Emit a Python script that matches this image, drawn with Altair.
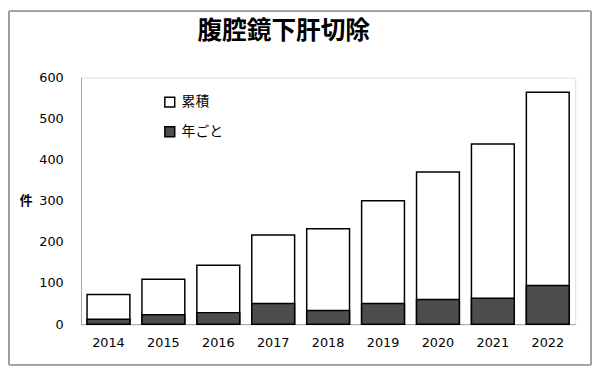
import altair as alt
import pandas as pd

years = ["2014", "2015", "2016", "2017", "2018", "2019", "2020", "2021", "2022"]
cumulative = [72, 109, 143, 217, 232, 300, 370, 438, 564]
yearly = [12, 23, 28, 50, 33, 50, 60, 63, 94]
series_names = ["累積", "年ごと"]
series_colors = ["#ffffff", "#4d4d4d"]
y_ticks = [0, 100, 200, 300, 400, 500, 600]

df = pd.DataFrame({
    "year": years + years,
    "series": [series_names[0]] * len(years) + [series_names[1]] * len(years),
    "value": cumulative + yearly,
})

JP = "Noto Sans CJK JP"
NUM = "DejaVu Sans"
AXIS_GRAY = "#a6a6a6"

color = alt.Color(
    "series:N",
    scale=alt.Scale(domain=series_names, range=series_colors),
    legend=alt.Legend(
        title=None, orient="none", legendX=83, legendY=18,
        symbolType="square", symbolSize=100, symbolStrokeColor="black",
        symbolStrokeWidth=1.5, labelFont=JP, labelFontSize=14,
        labelColor="black", rowPadding=14, labelOffset=5,
    ),
)

x = alt.X(
    "year:N", sort=years,
    scale=alt.Scale(paddingInner=0.22, paddingOuter=0.11),
    axis=alt.Axis(title=None, labelAngle=0, ticks=False, domainColor=AXIS_GRAY,
                  labelFont=NUM, labelFontSize=13, labelColor="black", labelPadding=13),
)
y = alt.Y(
    "value:Q", stack=None,
    scale=alt.Scale(domain=[0, 600], nice=False),
    axis=alt.Axis(values=y_ticks, title="件", titleAngle=0, titleX=-56, titleY=125,
                  titleAlign="center", titleBaseline="middle", titleFont=JP,
                  titleFontSize=13, titleFontWeight="bold", titleColor="black",
                  grid=False, ticks=False, domainColor=AXIS_GRAY,
                  labelFont=NUM, labelFontSize=13, labelColor="black", labelPadding=18),
)

cum_layer = alt.Chart(df).transform_filter(
    alt.datum.series == series_names[0]
).mark_bar(stroke="black", strokeWidth=1.5).encode(x=x, y=y, fill=color)

year_layer = alt.Chart(df).transform_filter(
    alt.datum.series == series_names[1]
).mark_bar(stroke="black", strokeWidth=1.5).encode(x=x, y=y, fill=color)

frame = alt.Chart(df).mark_rect(fillOpacity=0, stroke="#a0a0a0", strokeWidth=1).encode(
    x=alt.value(-73), x2=alt.value(517), y=alt.value(-67), y2=alt.value(291)
)

chart = alt.layer(frame, cum_layer, year_layer).properties(
    width=501, height=250,
    title=alt.TitleParams(text="腹腔鏡下肝切除", font=JP, fontSize=25, fontWeight="bold",
                          anchor="middle", dx=-45, offset=0, baseline="bottom", dy=58,
                          color="black"),
    autosize=alt.AutoSizeParams(type="none"),
    padding={"left": 74, "top": 68, "right": 17, "bottom": 42},
).configure_view(stroke=None, strokeWidth=0).configure(background="white")

chart.save("out.html", embed_options={"renderer": "svg", "actions": False})
